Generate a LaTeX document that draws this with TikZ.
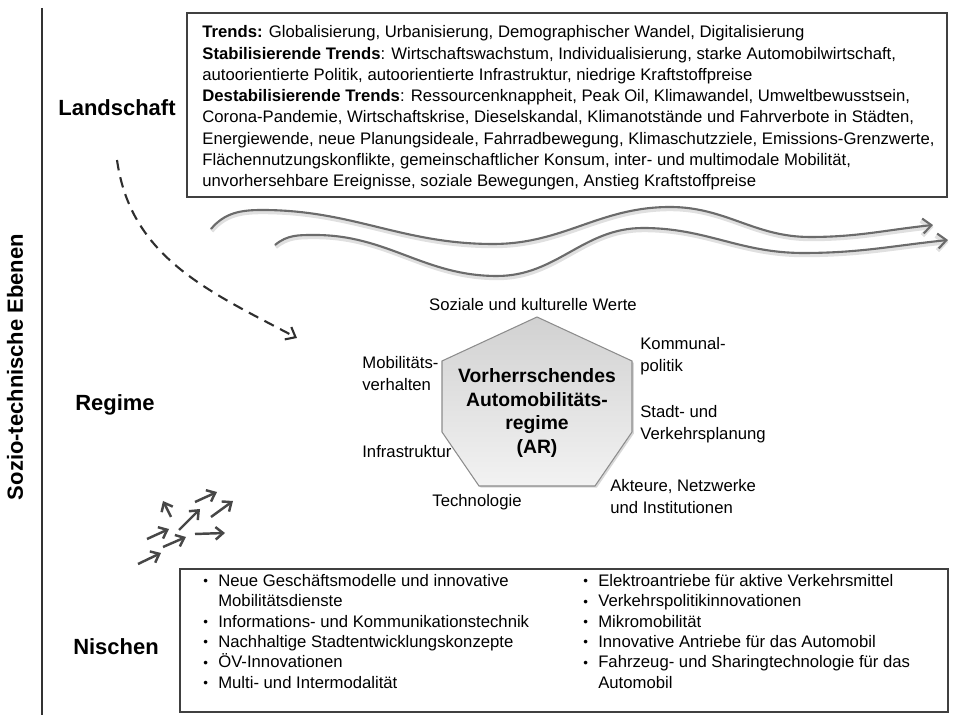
\documentclass[tikz,border=0pt]{standalone}
\usepackage{fontspec}
\setmainfont{Liberation Sans}
\usepackage{tikz}
\usetikzlibrary{arrows.meta, positioning, shadows}
\newcommand{\nbul}{\makebox[8.5pt][l]{\raisebox{0.4pt}{\scalebox{0.8}{\textbullet}}}}
\newcommand{\nsp}{\makebox[8.5pt]{}}

\begin{document}
\begin{tikzpicture}[
  lvl/.style={font=\fontsize{12.5}{15}\selectfont\bfseries},
  box/.style={draw=black!75, line width=1.1pt, fill=white, drop shadow={shadow xshift=0.7pt, shadow yshift=-0.7pt, fill=black!35}},
  lab/.style={font=\fontsize{9.5}{12.5}\selectfont, align=left, inner sep=0pt},
  lst/.style={font=\fontsize{9.5}{11.6}\selectfont, align=left, inner sep=0pt, anchor=north west},
  hept/.style={draw=black!45, line width=0.6pt, top color=black!18, bottom color=black!5, drop shadow={shadow xshift=1pt, shadow yshift=-1pt, fill=black!30}},
  wave/.style={-{Straight Barb[length=1.7mm, width=3mm]}, black!58, line width=1.2pt, preaction={draw=black!12, line width=2.6pt, transform canvas={shift={(0.3pt,-1.1pt)}}}},
  sarr/.style={-{Straight Barb[length=1.5mm, width=2.5mm]}, black!72, line width=1.4pt},
  darr/.style={-{Straight Barb[length=1.7mm, width=2.8mm]}, black!82, line width=1.2pt, dash pattern=on 6pt off 4pt}]
\useasboundingbox (0, 0) rectangle (19.08, 14.30);
\draw[black!80, line width=1.2pt] (0.84, 14.14) -- (0.84, 0);
\node[lvl, rotate=90] (ebenen) at (0.30, 6.96) {Sozio-technische Ebenen};
\node[lvl] (land) at (2.34, 12.14) {Landschaft};
\node[lvl] (regime) at (2.30, 6.20) {Regime};
\node[lvl] (nischen) at (2.32, 1.36) {Nischen};
% Landschaft
\node[box, minimum width=15.2cm, minimum height=3.68cm] (lbox) at (11.34, 12.2) {};
\node[lst, font=\fontsize{9.5}{12.1}\selectfont, anchor=west] (trends) at ([xshift=0.32cm, yshift=-0.06cm]lbox.west) {\textbf{Trends:} Globalisierung, Urbanisierung, Demographischer Wandel, Digitalisierung\\
  \textbf{Stabilisierende Trends}: Wirtschaftswachstum, Individualisierung, starke Automobilwirtschaft,\\
  autoorientierte Politik, autoorientierte Infrastruktur, niedrige Kraftstoffpreise\\
  \textbf{Destabilisierende Trends}: Ressourcenknappheit, Peak Oil, Klimawandel, Umweltbewusstsein,\\
  Corona-Pandemie, Wirtschaftskrise, Dieselskandal, Klimanotstände und Fahrverbote in Städten,\\
  Energiewende, neue Planungsideale, Fahrradbewegung, Klimaschutzziele, Emissions-Grenzwerte,\\
  Flächennutzungskonflikte, gemeinschaftlicher Konsum, inter- und multimodale Mobilität,\\
  unvorhersehbare Ereignisse, soziale Bewegungen, Anstieg Kraftstoffpreise};
\draw[wave] (4.22, 9.72) to[out=50, in=180] (5.24, 10.10) to[out=0, in=180] (9.86, 9.42) to[out=0, in=180] (13.40, 10.16) to[out=0, in=180] (16.20, 9.56) to[out=0, in=186] (18.66, 9.80);
\draw[wave] (5.50, 9.40) to[out=40, in=180] (6.30, 9.60) to[out=0, in=180] (9.94, 8.78) to[out=0, in=180] (12.86, 9.74) to[out=0, in=180] (16.06, 9.24) to[out=0, in=186] (18.96, 9.50);
\coordinate (dfrom) at (2.34, 11.10);
\coordinate (dto) at (5.94, 7.54);
\draw[darr] (dfrom) to[out=-82, in=152] (dto);
% Regime
\draw[hept] (10.74, 7.96) -- (12.64, 7.08) -- (12.64, 5.66) -- (11.90, 4.58) -- (9.58, 4.58) -- (8.84, 5.66) -- (8.84, 7.08) -- cycle;
\node[font=\fontsize{11}{13.3}\selectfont\bfseries, align=center] (ar) at (10.74, 6.04) {Vorherrschendes\\ Automobilitäts-\\ regime\\ (AR)};
\node[lab] (werte) at (10.66, 8.20) {Soziale und kulturelle Werte};
\node[lab, anchor=west] (kommunal) at (12.80, 7.17) {Kommunal-\\ politik};
\node[lab, anchor=west] (mobil) at (7.24, 6.82) {Mobilitäts-\\ verhalten};
\node[lab, anchor=west] (planung) at (12.80, 5.82) {Stadt- und\\ Verkehrsplanung};
\node[lab, anchor=west] (infra) at (7.24, 5.26) {Infrastruktur};
\node[lab] (techno) at (9.54, 4.26) {Technologie};
\node[lab, anchor=west] (akteure) at (12.20, 4.36) {Akteure, Netzwerke\\ und Institutionen};
% Nischen
\foreach \xa/\ya/\xb/\yb in {2.76/3.02/3.22/3.24, 2.94/3.52/3.38/3.72, 3.26/3.36/3.72/3.56, 3.58/3.70/4.00/4.12,
  3.90/4.26/4.34/4.46, 4.22/3.96/4.66/4.28, 3.90/3.62/4.50/3.64, 3.42/3.96/3.26/4.28}
  \draw[sarr] (\xa, \ya) -- (\xb, \yb);
\node[box, minimum width=15.36cm, minimum height=2.86cm] (nbox) at (11.28, 1.49) {};
\node[lst] (nleft) at (4.06, 2.82) {\nbul Neue Geschäftsmodelle und innovative\\
  \nsp Mobilitätsdienste\\
  \nbul Informations- und Kommunikationstechnik\\
  \nbul Nachhaltige Stadtentwicklungskonzepte\\
  \nbul ÖV-Innovationen\\
  \nbul Multi- und Intermodalität};
\node[lst] (nright) at (11.66, 2.82) {\nbul Elektroantriebe für aktive Verkehrsmittel\\
  \nbul Verkehrspolitikinnovationen\\
  \nbul Mikromobilität\\
  \nbul Innovative Antriebe für das Automobil\\
  \nbul Fahrzeug- und Sharingtechnologie für das\\
  \nsp Automobil};
\end{tikzpicture}
\end{document}
